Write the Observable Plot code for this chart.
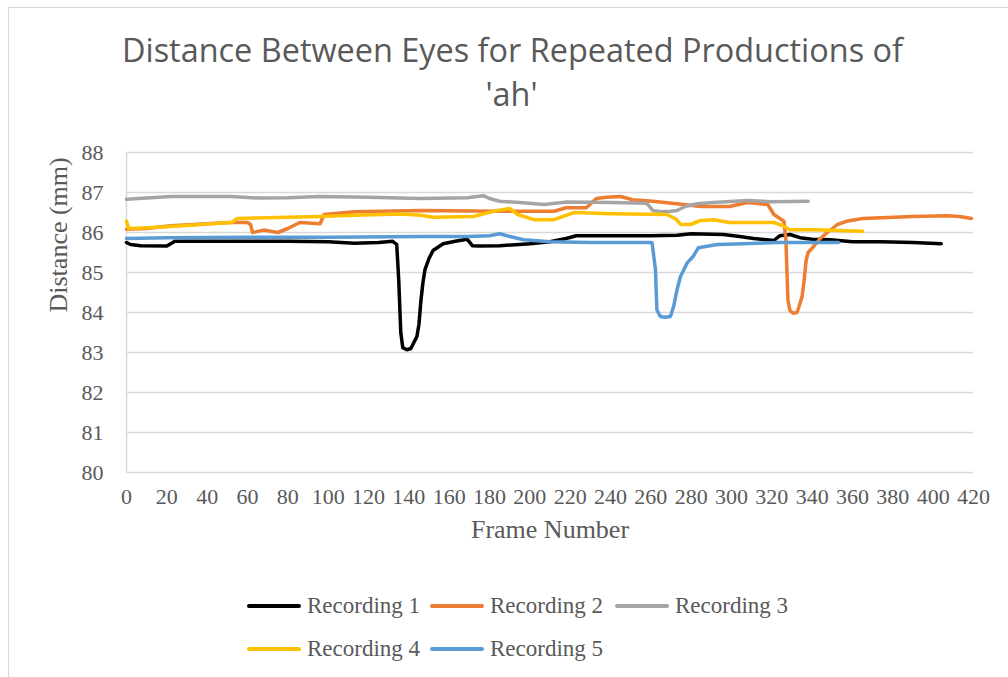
<!DOCTYPE html>
<html><head><meta charset="utf-8">
<script src="https://cdn.jsdelivr.net/npm/d3@7"></script>
<script src="https://cdn.jsdelivr.net/npm/@observablehq/plot@0.6"></script>
<style>
body{margin:0;background:#fff;}
#wrap{position:relative;width:1008px;height:677px;overflow:hidden;background:#fff;}
#border{position:absolute;left:8px;top:7px;width:1200px;height:900px;border-left:1.5px solid #d9d9d9;border-top:1.5px solid #d9d9d9;}
#title{position:absolute;left:8px;top:28px;width:1008px;text-align:center;font-family:"Open Sans",sans-serif;font-size:33px;line-height:44px;color:#595959;}
#title div span{display:inline-block;transform-origin:center;white-space:nowrap;}
#chart{position:absolute;left:0;top:130px;}
#legend{position:absolute;left:247px;top:584px;display:grid;grid-template-columns:183px 185px 185px;grid-auto-rows:43px;font-family:"Liberation Serif","Times New Roman",serif;font-size:23px;color:#595959;}
#legend .item{display:flex;align-items:center;white-space:nowrap;}
#legend .sw{display:inline-block;width:54px;height:4px;border-radius:2px;margin-right:6px;}
</style></head>
<body><div id="wrap"><div id="border"></div>
<div id="title"><div><span id="t1"></span></div><div><span id="t2"></span></div></div>
<div id="chart"></div><div id="legend"></div></div>
<script>
const titleLines = ["Distance Between Eyes for Repeated Productions of", "'ah'"];
const xLabel = "Frame Number";
const yLabel = "Distance (mm)";
const xTicks = [0,20,40,60,80,100,120,140,160,180,200,220,240,260,280,300,320,340,360,380,400,420];
const yTicks = [80,81,82,83,84,85,86,87,88];
const seriesNames = ["Recording 1","Recording 2","Recording 3","Recording 4","Recording 5"];
const seriesColors = ["#000000","#ED7D31","#A5A5A5","#FFC000","#5B9BD5"];

const rec1Frames = [0,2,7,20,24,40,60,80,100,113,125,132,134,135,136,137,139,141,142.5,144,145,146,147,148,150,152,157,163,169,171.5,175,185,200,210,218,223,240,260,273,280,296,304,311,321,324,329,334,340,349,360,374,390,404];
const rec1Values = [85.75,85.7,85.67,85.66,85.78,85.78,85.78,85.78,85.77,85.73,85.75,85.78,85.7,84.8,83.5,83.12,83.07,83.1,83.25,83.4,83.7,84.3,84.75,85.07,85.35,85.55,85.72,85.78,85.83,85.67,85.66,85.67,85.72,85.77,85.85,85.92,85.92,85.92,85.93,85.97,85.95,85.9,85.85,85.8,85.92,85.95,85.87,85.83,85.82,85.77,85.77,85.75,85.72];

const rec2Frames = [0,10,22,40,51,60,61.5,62.5,68,75,80,86,96,98,113,146,185,212,218,228,233,238,245,251,261,276,285,299,308,318,321,326,327,327.5,328,329,330.5,332.5,333.5,335,336,337,338,340.7,344,347.5,352.5,357,365,390,407,413,419];
const rec2Values = [86.08,86.1,86.17,86.22,86.25,86.25,86.2,86.0,86.06,86.0,86.1,86.25,86.22,86.45,86.52,86.55,86.53,86.53,86.62,86.62,86.85,86.88,86.9,86.82,86.78,86.7,86.65,86.65,86.75,86.7,86.45,86.28,85.8,85.0,84.3,84.05,83.98,84.0,84.15,84.4,84.8,85.3,85.5,85.65,85.85,86.0,86.2,86.28,86.35,86.4,86.42,86.4,86.35];

const rec3Frames = [0,10,22,52,66,80,96,120,146,169,174,177,180,185,195,207,218.6,240,258,261,265,270,273,277,283,291,308,320,338];
const rec3Values = [86.83,86.86,86.9,86.9,86.86,86.87,86.9,86.88,86.85,86.87,86.9,86.92,86.85,86.78,86.75,86.7,86.76,86.75,86.73,86.55,86.52,86.53,86.55,86.65,86.72,86.75,86.8,86.77,86.78];

const rec4Frames = [0,1,10,22,52,55,80,96,113,136,146,152,172,182,190,194,202,212,222,240,268,272,275,279.6,284.6,291,299,321,325,329,341,365];
const rec4Values = [86.28,86.1,86.12,86.15,86.25,86.35,86.38,86.4,86.43,86.46,86.43,86.38,86.4,86.53,86.6,86.45,86.32,86.32,86.5,86.47,86.45,86.35,86.2,86.2,86.3,86.32,86.25,86.25,86.18,86.07,86.07,86.03];

const rec5Frames = [0,20,60,100,146,169,180,185,190,197,210,230,260.6,262.3,263,264.7,267,269.7,271.3,273,274.7,278,281,283.6,293,306,323,353];
const rec5Values = [85.85,85.87,85.88,85.88,85.9,85.9,85.92,85.97,85.9,85.82,85.77,85.75,85.75,85.07,84.07,83.9,83.88,83.9,84.15,84.57,84.9,85.24,85.4,85.62,85.7,85.72,85.75,85.75];

const allFrames = [rec1Frames, rec2Frames, rec3Frames, rec4Frames, rec5Frames];
const allValues = [rec1Values, rec2Values, rec3Values, rec4Values, rec5Values];
const data = seriesNames.flatMap((name, i) => allFrames[i].map((f, j) => ({series: name, frame: f, value: allValues[i][j]})));

// Title
const t1 = document.getElementById("t1"), t2 = document.getElementById("t2");
t1.textContent = titleLines[0]; t2.textContent = titleLines[1];
const sc = 781 / t1.getBoundingClientRect().width;
t1.style.transform = `scaleX(${sc})`; t2.style.transform = `scaleX(${sc})`;

const chart = Plot.plot({
  width: 1008, height: 430,
  marginTop: 22, marginBottom: 88, marginLeft: 126, marginRight: 35,
  style: {fontFamily: '"Liberation Serif", "Times New Roman", serif', fontSize: "22px", color: "#595959", background: "transparent", overflow: "visible"},
  x: {domain: [0, 420]},
  y: {domain: [80, 88]},
  color: {domain: seriesNames, range: seriesColors},
  marks: [
    Plot.gridY(yTicks, {stroke: "#d9d9d9", strokeOpacity: 1, strokeWidth: 1.5}),
    Plot.ruleX([0], {stroke: "#d9d9d9", strokeWidth: 1.5}),
    Plot.axisX(xTicks, {tickSize: 0, tickPadding: 16, label: null}),
    Plot.axisY(yTicks, {tickSize: 0, tickPadding: 23, label: null}),
    Plot.line(data, {x: "frame", y: "value", z: "series", stroke: "series", strokeWidth: 3.5, strokeLinejoin: "round", strokeLinecap: "round"}),
    Plot.text([xLabel], {text: d => d, frameAnchor: "bottom", dy: 65, fontSize: 26, fill: "#595959"}),
    Plot.text([yLabel], {text: d => d, frameAnchor: "left", rotate: -90, dx: -68, fontSize: 26, fill: "#595959"})
  ]
});
document.getElementById("chart").appendChild(chart);

const legend = document.getElementById("legend");
seriesNames.forEach((name, i) => {
  const item = document.createElement("div"); item.className = "item";
  const sw = document.createElement("span"); sw.className = "sw"; sw.style.background = seriesColors[i];
  const tx = document.createElement("span"); tx.textContent = name;
  item.appendChild(sw); item.appendChild(tx); legend.appendChild(item);
});
</script></body></html>
